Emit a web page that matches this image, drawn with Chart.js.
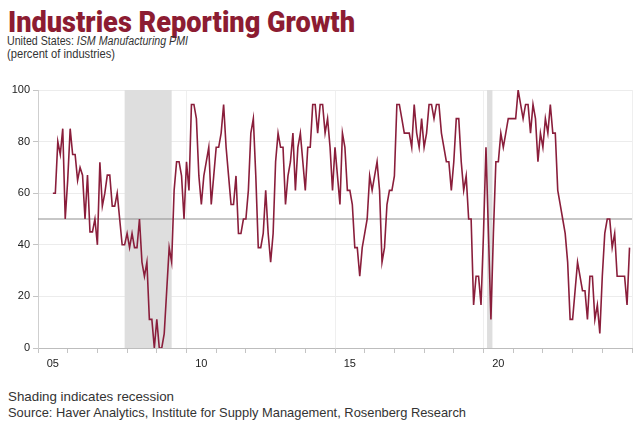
<!DOCTYPE html>
<html>
<head>
<meta charset="utf-8">
<script src="https://cdn.jsdelivr.net/npm/chart.js@4/dist/chart.umd.min.js"></script>
<style>
html,body{margin:0;padding:0;background:#fff;width:640px;height:422px;overflow:hidden;}
.t{position:absolute;left:8px;white-space:nowrap;transform-origin:0 0;line-height:1;}
#title{font-family:'Roboto','Liberation Sans',sans-serif;font-weight:900;font-size:30px;color:#8c1c32;top:7px;}
#sub1{font-family:'Liberation Sans','Roboto',sans-serif;font-size:12px;color:#333;top:35px;left:7px;}
#sub2{font-family:'Liberation Sans','Roboto',sans-serif;font-size:12px;color:#333;top:48px;left:7px;}
#foot1{font-family:'Liberation Sans','Roboto',sans-serif;font-size:13px;color:#333;top:390px;}
#foot2{font-family:'Liberation Sans','Roboto',sans-serif;font-size:13px;color:#333;top:406px;}
#wrap{position:absolute;left:0;top:80px;width:640px;height:300px;}
</style>
</head>
<body>
<div class="t" id="title" data-w="347">Industries Reporting Growth</div>
<div class="t" id="sub1" data-w="181">United States: <i>ISM Manufacturing PMI</i></div>
<div class="t" id="sub2" data-w="108">(percent of industries)</div>
<div id="wrap"><canvas id="c" width="640" height="300"></canvas></div>
<div class="t" id="foot1" data-w="166">Shading indicates recession</div>
<div class="t" id="foot2" data-w="458">Source: Haver Analytics, Institute for Supply Management, Rosenberg Research</div>
<script>
// Percent of industries reporting growth, monthly (2005 starts in July)
const firstMonth2005 = 7;
const v2005 = [60, 60, 80, 75, 85, 50];
const v2006 = [65, 85, 75, 75, 65, 70, 67, 50, 67, 45, 45, 50];
const v2007 = [40, 72, 55, 60, 67, 67, 55, 55, 60, 50, 40, 40];
const v2008 = [44.4, 38.9, 44.4, 38.9, 38.9, 50, 33.3, 27.8, 33.3, 11.1, 11.1, 0];
const v2009 = [11.1, 0, 0, 5.6, 22.2, 38.9, 33.3, 61.1, 72.2, 72.2, 66.7, 50];
const v2010 = [72.2, 61.1, 94.4, 94.4, 88.9, 66.7, 55.6, 66.7, 72.2, 77.8, 55.6, 66.7];
const v2011 = [77.8, 77.8, 83.3, 94.4, 77.8, 66.7, 55.6, 55.6, 66.7, 44.4, 44.4, 50];
const v2012 = [50, 61.1, 83.3, 88.9, 66.7, 38.9, 38.9, 44.4, 61.1, 44.4, 33.3, 44.4];
const v2013 = [72.2, 83.3, 77.8, 77.8, 55.6, 66.7, 72.2, 83.3, 61.1, 77.8, 83.3, 72.2];
const v2014 = [61.1, 77.8, 77.8, 94.4, 94.4, 83.3, 94.4, 94.4, 83.3, 88.9, 77.8, 61.1];
const v2015 = [77.8, 66.7, 55.6, 83.3, 77.8, 61.1, 61.1, 55.6, 38.9, 38.9, 27.8, 38.9];
const v2016 = [44.4, 50, 66.7, 61.1, 66.7, 72.2, 61.1, 33.3, 38.9, 55.6, 61.1, 61.1];
const v2017 = [66.7, 94.4, 94.4, 88.9, 83.3, 83.3, 83.3, 77.8, 94.4, 83.3, 77.8, 88.9];
const v2018 = [77.8, 83.3, 94.4, 94.4, 88.9, 94.4, 94.4, 83.3, 77.8, 72.2, 72.2, 61.1];
const v2019 = [72.2, 88.9, 88.9, 72.2, 61.1, 66.7, 50, 50, 16.7, 27.8, 27.8, 16.7];
const v2020 = [44.4, 77.8, 44.4, 11.1, 44.4, 72.2, 72.2, 83.3, 77.8, 83.3, 88.9, 88.9];
const v2021 = [88.9, 88.9, 100, 94.4, 88.9, 94.4, 94.4, 83.3, 94.4, 88.9, 72.2, 83.3];
const v2022 = [77.8, 88.9, 83.3, 94.4, 83.3, 83.3, 61.1, 55.6, 50, 44.4, 33.3, 11.1];
const v2023 = [11.1, 22.2, 33.3, 27.8, 22.2, 22.2, 11.1, 27.8, 27.8, 11.1, 16.7, 5.6];
const v2024 = [27.8, 44.4, 50, 50, 38.9, 44.4, 27.8, 27.8, 27.8, 27.8, 16.7, 38.9];

const years = [2005, 2006, 2007, 2008, 2009, 2010, 2011, 2012, 2013, 2014,
               2015, 2016, 2017, 2018, 2019, 2020, 2021, 2022, 2023, 2024];
const yearValues = [v2005, v2006, v2007, v2008, v2009, v2010, v2011, v2012, v2013, v2014,
                    v2015, v2016, v2017, v2018, v2019, v2020, v2021, v2022, v2023, v2024];

const xTickLabels = ['05', '10', '15', '20'];
const xTickLabelYears = [2005, 2010, 2015, 2020];
const yTicks = [0, 20, 40, 60, 80, 100];
const thresholdValue = 50;
const recessions = [[2007.917, 2009.5], [2020.12, 2020.3]];

const points = [];
years.forEach((yr, i) => {
  const start = (yr === 2005) ? firstMonth2005 - 1 : 0;
  yearValues[i].forEach((v, j) => points.push({x: yr + (start + j) / 12, y: v}));
});

// fit text widths
document.querySelectorAll('.t').forEach(el => {
  const w = el.getBoundingClientRect().width;
  const target = +el.dataset.w;
  el.style.transform = 'scaleX(' + (target / w) + ')';
});

const labelMap = {};
xTickLabelYears.forEach((y, i) => labelMap[(y + 0.5).toFixed(1)] = xTickLabels[i]);

const shadePlugin = {
  id: 'shade',
  beforeDatasetsDraw(chart) {
    const {ctx, chartArea, scales} = chart;
    ctx.save();
    ctx.fillStyle = '#dedede';
    recessions.forEach(([a, b]) => {
      const x1 = scales.x.getPixelForValue(a), x2 = scales.x.getPixelForValue(b);
      ctx.fillRect(x1, chartArea.top, x2 - x1, chartArea.bottom - chartArea.top);
    });
    ctx.restore();
  }
};

const axisFont = {family: "'Liberation Sans', 'Roboto', sans-serif", size: 11};

new Chart(document.getElementById('c'), {
  type: 'line',
  data: {
    datasets: [
      {data: points, borderColor: '#8a1e3b', borderWidth: 1.6, pointRadius: 0, tension: 0, fill: false, order: 1},
      {data: [{x: 2005, y: thresholdValue}, {x: 2025, y: thresholdValue}], borderColor: '#8f8f8f', borderWidth: 1, pointRadius: 0, fill: false, order: 2}
    ]
  },
  options: {
    responsive: false,
    animation: false,
    parsing: true,
    layout: {padding: {top: 10, right: 8, left: 0, bottom: 0}},
    plugins: {legend: {display: false}, tooltip: {enabled: false}},
    scales: {
      x: {
        type: 'linear', min: 2005, max: 2025,
        afterBuildTicks(scale) {
          const t = [];
          for (let y = 2005; y <= 2025; y++) t.push({value: y});
          xTickLabelYears.forEach(y => t.push({value: y + 0.5}));
          t.sort((a, b) => a.value - b.value);
          scale.ticks = t;
        },
        afterFit(scale) { scale.height = 32; },
        ticks: {
          autoSkip: false, maxRotation: 0, minRotation: 0, padding: 4,
          color: '#222', font: axisFont,
          callback: (v) => labelMap[(+v).toFixed(1)] || ''
        },
        grid: {
          drawTicks: true, tickLength: 5,
          color: (c) => (c.tick && [2010, 2015, 2020, 2025].includes(c.tick.value)) ? '#efefef' : 'rgba(0,0,0,0)',
          tickColor: (c) => (c.tick && Number.isInteger(c.tick.value)) ? '#c4c4c4' : 'rgba(0,0,0,0)'
        },
        border: {color: '#bdbdbd', width: 1}
      },
      y: {
        min: 0, max: 100,
        afterBuildTicks(scale) { scale.ticks = yTicks.map(v => ({value: v})); },
        afterFit(scale) { scale.width = 38; },
        ticks: {padding: 3, color: '#222', font: axisFont},
        grid: {color: '#ececec', tickLength: 5, tickColor: '#c4c4c4'},
        border: {color: '#cfcfcf', width: 1}
      }
    }
  },
  plugins: [shadePlugin]
});
</script>
</body>
</html>
